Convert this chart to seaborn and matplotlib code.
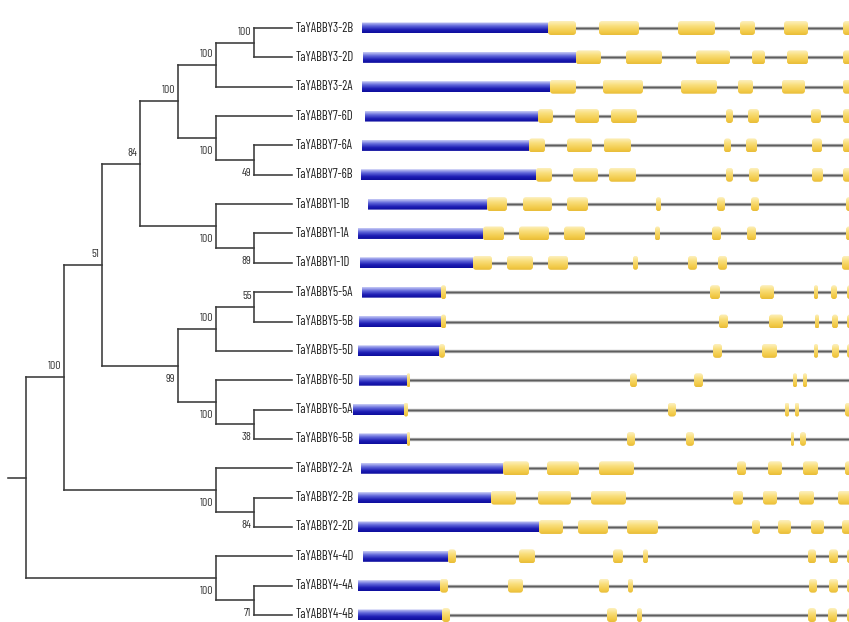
import numpy as np
import pandas as pd
import matplotlib
matplotlib.use("Agg")
import matplotlib.pyplot as plt
import seaborn as sns
from matplotlib.patches import FancyBboxPatch
from matplotlib.colors import LinearSegmentedColormap
from matplotlib import font_manager

# ---------------- data ----------------
# tree nodes: [child1, child2, bootstrap]
n32 = ["TaYABBY3-2B", "TaYABBY3-2D", 100]
n3 = [n32, "TaYABBY3-2A", 100]
n7 = ["TaYABBY7-6D", ["TaYABBY7-6A", "TaYABBY7-6B", 49], 100]
n37 = [n3, n7, 100]
n1 = ["TaYABBY1-1B", ["TaYABBY1-1A", "TaYABBY1-1D", 89], 100]
n84 = [n37, n1, 84]
n5 = [["TaYABBY5-5A", "TaYABBY5-5B", 55], "TaYABBY5-5D", 100]
n6 = ["TaYABBY6-5D", ["TaYABBY6-5A", "TaYABBY6-5B", 38], 100]
n99 = [n5, n6, 99]
n51 = [n84, n99, 51]
n2 = ["TaYABBY2-2A", ["TaYABBY2-2B", "TaYABBY2-2D", 84], 100]
n100 = [n51, n2, 100]
n4 = ["TaYABBY4-4D", ["TaYABBY4-4A", "TaYABBY4-4B", 71], 100]
tree = [n100, n4, None]

# gene structures (positions along gene axis), in tip order
blue_start = [362, 363, 362, 365, 362, 361, 368, 358, 360, 362, 359, 358,
              359, 353, 359, 361, 358, 358, 363, 358, 358]
blue_end = [548, 576, 550, 538, 529, 536, 487, 483, 473, 441, 441, 439,
            407, 404, 407, 503, 491, 539, 448, 440, 442]
exons = [
    [(548, 576), (599, 639), (678, 715), (740, 755), (784, 808), (843, 860)],
    [(576, 601), (626, 662), (696, 730), (752, 765), (787, 808), (843, 860)],
    [(550, 576), (603, 643), (681, 717), (738, 753), (782, 805), (843, 860)],
    [(538, 553), (575, 599), (611, 637), (726, 733), (748, 759), (811, 821), (843, 860)],
    [(529, 545), (567, 592), (604, 631), (724, 731), (746, 757), (812, 822), (843, 860)],
    [(536, 552), (573, 598), (609, 636), (726, 733), (749, 759), (812, 823), (843, 860)],
    [(487, 507), (523, 552), (567, 588), (656, 661), (717, 725), (751, 759), (846, 860)],
    [(483, 504), (519, 549), (564, 585), (655, 660), (712, 721), (747, 756), (846, 860)],
    [(473, 492), (507, 533), (548, 568), (633, 638), (688, 697), (718, 727), (842, 860)],
    [(441, 446), (710, 720), (760, 774), (814, 818), (831, 837), (847, 860)],
    [(441, 446), (719, 728), (769, 783), (815, 819), (832, 838), (847, 860)],
    [(439, 445), (713, 722), (762, 777), (814, 818), (832, 839), (847, 860)],
    [(407, 410), (630, 637), (694, 703), (793, 797), (803, 807)],
    [(404, 408), (668, 676), (785, 789), (795, 799), (845, 860)],
    [(407, 410), (627, 635), (686, 694), (791, 794), (800, 806)],
    [(503, 529), (547, 579), (599, 634), (737, 746), (768, 782), (803, 818), (845, 860)],
    [(491, 516), (538, 571), (591, 626), (733, 743), (763, 777), (799, 814), (838, 860)],
    [(539, 563), (578, 608), (627, 658), (752, 760), (778, 791), (811, 824), (842, 860)],
    [(448, 456), (519, 535), (613, 623), (643, 648), (808, 816), (829, 838), (847, 860)],
    [(440, 448), (508, 523), (599, 609), (628, 633), (809, 817), (829, 838), (847, 860)],
    [(442, 450), (607, 617), (637, 642), (808, 816), (828, 837), (847, 860)],
]
gene_end = 860

# ---------------- style ----------------
sns.set_theme(style="white")
avail = {f.name for f in font_manager.fontManager.ttflist}
narrow = "Liberation Sans"
for cand in ["Liberation Sans Narrow", "Arial Narrow", "Barlow Condensed",
             "Archivo Narrow", "Roboto Condensed", "Asap Condensed"]:
    if cand in avail:
        narrow = cand
        break
plt.rcParams["font.family"] = [narrow, "DejaVu Sans"]

W, H = 849, 622
fig = plt.figure(figsize=(W / 100, H / 100), dpi=100)
ax = fig.add_axes([0, 0, 1, 1])
ax.set_xlim(0, W)
ax.set_ylim(H, 0)

TOP, STEP = 28.0, 29.35
TIP_X, LEVEL = 292.5, 38.1
ROOT_STUB = 8

# fit font sizes to the reference text widths
rend = fig.canvas.get_renderer()


def fit_size(sample, target_px):
    t = ax.text(0, 0, sample, fontsize=10)
    w = t.get_window_extent(rend).width
    t.remove()
    return 10 * target_px / w


tip_fs = fit_size("TaYABBY3-2B", 58)
sup_fs = fit_size("100", 13.5)

# ---------------- tree layout ----------------
tips = []
internal = []


def walk(node):
    if isinstance(node, str):
        i = len(tips)
        tips.append(node)
        return {"h": 0, "y": TOP + i * STEP, "leaf": True}
    c1, c2, sup = node
    a = walk(c1)
    b = walk(c2)
    a["side"] = "upper"
    b["side"] = "lower"
    info = {"h": max(a["h"], b["h"]) + 1, "y": (a["y"] + b["y"]) / 2,
            "leaf": False, "sup": sup, "kids": (a, b), "side": None}
    internal.append(info)
    return info


root = walk(tree)


def xof(n):
    return TIP_X - n["h"] * LEVEL


rows = []
seg = 0
for n in internal:
    xn = xof(n)
    a, b = n["kids"]
    rows += [(seg, xn, a["y"]), (seg, xn, b["y"])]
    seg += 1
    for k in (a, b):
        rows += [(seg, xn, k["y"]), (seg, xof(k), k["y"])]
        seg += 1
rows += [(seg, ROOT_STUB, root["y"]), (seg, xof(root), root["y"])]
segdf = pd.DataFrame(rows, columns=["seg", "x", "y"])

sns.lineplot(data=segdf, x="x", y="y", units="seg", estimator=None, sort=False,
             color="#3a3a3a", linewidth=1.15, ax=ax, legend=False,
             solid_capstyle="projecting")

# bootstrap labels
for n in internal:
    if n["sup"] is None:
        continue
    dy = -11 if n["side"] == "upper" else 13
    ax.text(xof(n) - 3, n["y"] + dy, str(n["sup"]), ha="right", va="center",
            fontsize=sup_fs, color="#333333", zorder=6)

# tip labels
for i, g in enumerate(tips):
    ax.text(TIP_X + 3.5, TOP + i * STEP, g, ha="left", va="center",
            fontsize=tip_fs, color="#1e1e1e", zorder=6)

# ---------------- gene structures ----------------
blue_cmap = LinearSegmentedColormap.from_list(
    "b", [(0, "#c8ccf6"), (0.35, "#6066da"), (0.7, "#1c1cb4"), (1, "#0e0e9c")])
yel_cmap = LinearSegmentedColormap.from_list(
    "y", [(0, "#fdf0bf"), (0.35, "#f9df7c"), (0.8, "#f2c946"), (1, "#e8bd3a")])
grad = np.linspace(0, 1, 64).reshape(-1, 1)


def box(x0, x1, yc, h, cmap, r, z):
    top = yc - h / 2
    im = ax.imshow(grad, cmap=cmap, extent=(x0, x1, yc + h / 2, top),
                   aspect="auto", origin="upper", interpolation="bilinear",
                   zorder=z)
    p = FancyBboxPatch((x0, top), x1 - x0, h,
                       boxstyle=f"round,pad=0,rounding_size={r}",
                       transform=ax.transData, facecolor="none",
                       edgecolor="none")
    ax.add_patch(p)
    im.set_clip_path(p)


for i, g in enumerate(tips):
    y = TOP + i * STEP
    ax.plot([blue_end[i], gene_end], [y, y], color="#a8a8a8", lw=2.4,
            zorder=2, solid_capstyle="butt")
    ax.plot([blue_end[i], gene_end], [y, y], color="#5e5e5e", lw=1.0,
            zorder=2.1, solid_capstyle="butt")
    box(blue_start[i], blue_end[i], y, 11, blue_cmap, 0.01, 3)
    for (s, e) in exons[i]:
        w = e - s
        box(s, e, y, 14, yel_cmap, min(3.0, w / 2.0), 4)

ax.set_xlim(0, W)
ax.set_ylim(H, 0)
ax.axis("off")
fig.savefig("out.png", dpi=100, facecolor="white")
